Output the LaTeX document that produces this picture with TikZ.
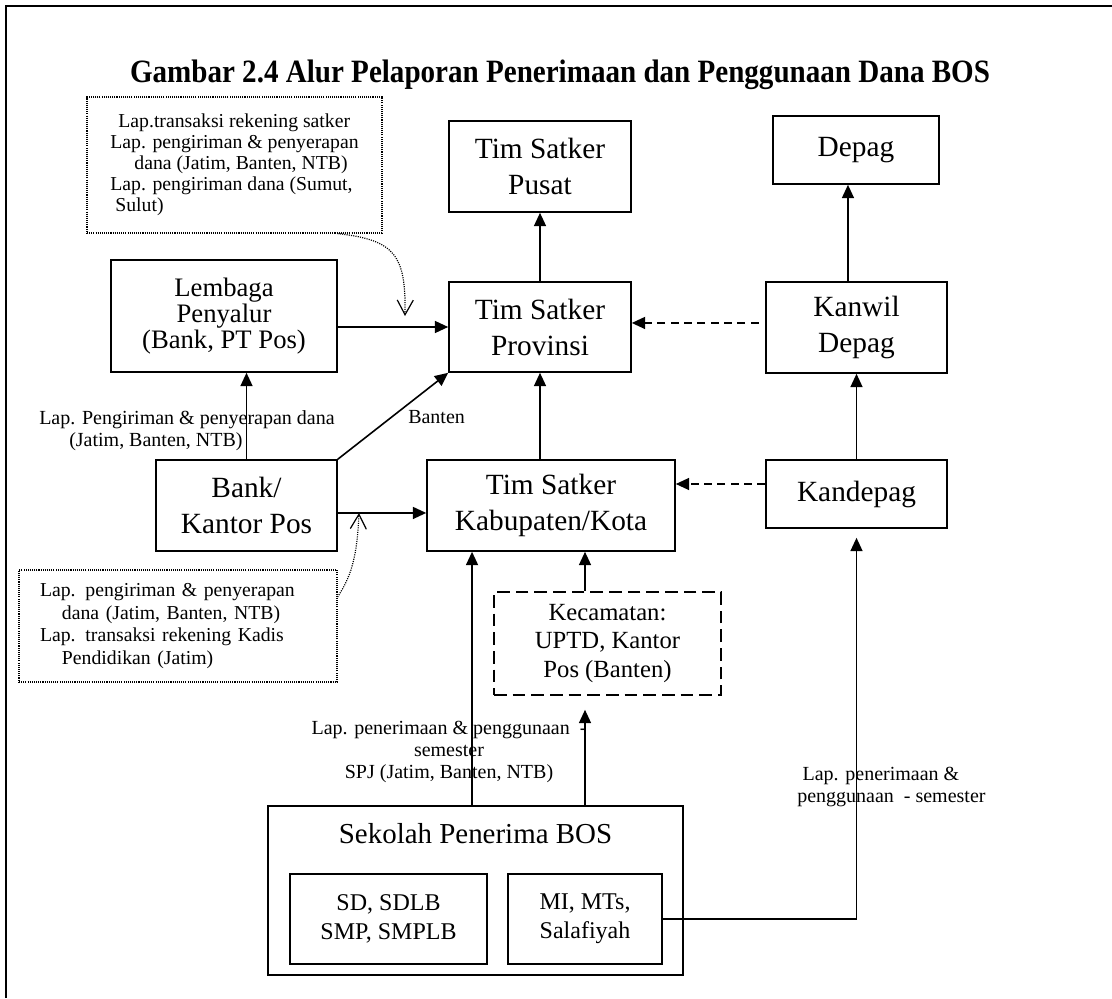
\documentclass[tikz,border=0pt]{standalone}
\usepackage{fontspec}
\setmainfont{Liberation Serif}
\usetikzlibrary{arrows.meta}
\begin{document}
\begin{tikzpicture}[x=0.75pt,y=-0.75pt,
  box/.style={draw,line width=1.2pt,align=center,inner sep=0pt},
  bigfont/.style={font=\fontsize{22}{27}\selectfont},
  midfont/.style={font=\fontsize{18.5}{21.5}\selectfont},
  lbl/.style={inner sep=0pt,font=\fontsize{15}{16.75}\selectfont},
  notebox/.style={draw,line width=0.8pt,dash pattern=on 0.8pt off 0.8pt,inner sep=0pt},
  arr/.style={line width=1.2pt,-{Triangle[length=10pt,width=9pt]}},
  dashline/.style={dash pattern=on 6pt off 4pt},
  dotline/.style={line width=0.9pt,dash pattern=on 0.8pt off 0.9pt,
    -{Straight Barb[length=11pt,width=12pt,line width=0.9pt]}}
]
\useasboundingbox (0,0) rectangle (1112,998);
% frame
\draw[line width=1.6pt] (6,998) -- (6,6) -- (1112,6);

% title
\node[font=\bfseries\fontsize{21.8}{27}\selectfont,anchor=base] (title) at (560,83)
  {\scalebox{1}[1.12]{Gambar 2.4 Alur Pelaporan Penerimaan dan Penggunaan Dana BOS}};

% organisation boxes
\node[box,bigfont,minimum width=136.5pt,minimum height=68.25pt] (pusat) at (540,166.5) {Tim Satker\\Pusat};
\node[box,bigfont,minimum width=124.5pt,minimum height=51pt] (depag) at (856,150) {Depag};
\node[box,font=\fontsize{20}{19.5}\selectfont,minimum width=169.5pt,minimum height=84pt] (lembaga) at (224,316) {Lembaga\\Penyalur\\(Bank, PT Pos)};
\node[box,bigfont,minimum width=136.5pt,minimum height=67.5pt] (provinsi) at (540,327) {Tim Satker\\Provinsi};
\node[box,bigfont,minimum width=135.75pt,minimum height=68.25pt] (kanwil) at (856.5,327.5) {Kanwil\\Depag};
\node[box,bigfont,minimum width=135.75pt,minimum height=68.25pt] (bank) at (246.5,505.5) {Bank/\\Kantor Pos};
\node[box,bigfont,minimum width=186pt,minimum height=68.25pt] (kabupaten) at (551,505.5) {Tim Satker\\Kabupaten/Kota};
\node[box,bigfont,minimum width=135.75pt,minimum height=51pt] (kandepag) at (856.5,494) {Kandepag};
\node[box,midfont,dash pattern=on 9.5pt off 4.5pt,minimum width=170.25pt,minimum height=77.25pt] (kecamatan) at (607.5,643.5) {Kecamatan:\\UPTD, Kantor\\Pos (Banten)};

% schools
\node[box,minimum width=311.25pt,minimum height=126.75pt] (sekolah) at (475.5,890.5) {};
\node[font=\fontsize{21.7}{26}\selectfont,anchor=base] (sekolahtitle) at (475.5,843) {Sekolah Penerima BOS};
\node[box,font=\fontsize{18}{21.5}\selectfont,minimum width=147.75pt,minimum height=67.5pt] (sd) at (388.5,919) {SD, SDLB\\SMP, SMPLB};
\node[box,font=\fontsize{18}{21.5}\selectfont,minimum width=115.5pt,minimum height=67.5pt] (mi) at (585,919) {MI, MTs,\\Salafiyah};

% dotted notes
\node[notebox,align=left,font=\fontsize{14.8}{15.75}\selectfont,minimum width=221.25pt,minimum height=102pt] (note1) at (234.5,165)
  {\hspace*{6pt}Lap.transaksi rekening satker\\Lap. pengiriman \& penyerapan\\\hspace*{18pt}dana (Jatim, Banten, NTB)\\Lap. pengiriman dana (Sumut,\\\hspace*{3.75pt}Sulut)};
\node[notebox,align=left,font=\fontsize{14.8}{17}\selectfont,text width=207pt,inner xsep=15.75pt,minimum height=84pt] (note2) at (178,626)
  {Lap. pengiriman \& penyerapan\\\hspace*{16.5pt}dana (Jatim, Banten, NTB)\\Lap. transaksi rekening Kadis\\\hspace*{16.5pt}Pendidikan (Jatim)};

% connector labels
\node[lbl,anchor=west,align=left] (lblbank) at (39,431) {Lap. Pengiriman \& penyerapan dana\\\hspace*{22.5pt}(Jatim, Banten, NTB)};
\node[lbl,anchor=west] (lblbanten) at (408,417) {Banten};
\node[lbl,align=center] (lblsekolah) at (449,752) {Lap. penerimaan \& penggunaan\ \ -\\semester\\SPJ (Jatim, Banten, NTB)};
\node[lbl,anchor=west,align=left] (lblmi) at (797,787) {\hspace*{4pt}Lap. penerimaan \&\\penggunaan\ \ - semester};

% reporting flow
\draw[arr] (provinsi.north) -- (pusat.south);
\draw[arr] ([xshift=-6.4pt]kanwil.north) -- ([xshift=-6.4pt]kanwil.north |- depag.south);
\draw[arr] (lembaga.east |- provinsi.west) -- (provinsi.west);
\draw[arr,dashline,shorten <=5pt] ([yshift=3.4pt]kanwil.west) -- ([yshift=3.4pt]kanwil.west -| provinsi.east);
\draw[arr] (bank.north) -- (bank.north |- lembaga.south);
\draw[arr] (bank.north east) -- (provinsi.south west);
\draw[arr] (kabupaten.north -| provinsi.south) -- (provinsi.south);
\draw[arr] ([yshift=-5.6pt]bank.east) -- ([yshift=-5.6pt]bank.east -| kabupaten.west);
\draw[arr,dashline] ([yshift=7.5pt]kandepag.west) -- ([yshift=7.5pt]kandepag.west -| kabupaten.east);
\draw[arr] (kandepag.north) -- (kandepag.north |- kanwil.south);
\draw[arr] (mi |- kecamatan.north) -- (mi |- kabupaten.south);
\draw[arr,shorten >=10.5pt] (mi |- sekolah.north) -- (mi |- kecamatan.south);
\draw[arr] ([xshift=-2.6pt]sekolah.north) -- ([xshift=-2.6pt]sekolah.north |- kabupaten.south);
\draw[arr,shorten >=6.75pt] (mi.east) -| (kandepag.south);

% note pointers
\coordinate (tip1) at (405,316);
\coordinate (tip2) at (359,513);
\draw[dotline] ([xshift=-33.75pt]note1.south east) .. controls (395,240) and (406,255) .. (tip1);
\draw[dotline] ([yshift=21.75pt]note2.east) .. controls (350,578) and (357,560) .. (tip2);
\end{tikzpicture}
\end{document}
